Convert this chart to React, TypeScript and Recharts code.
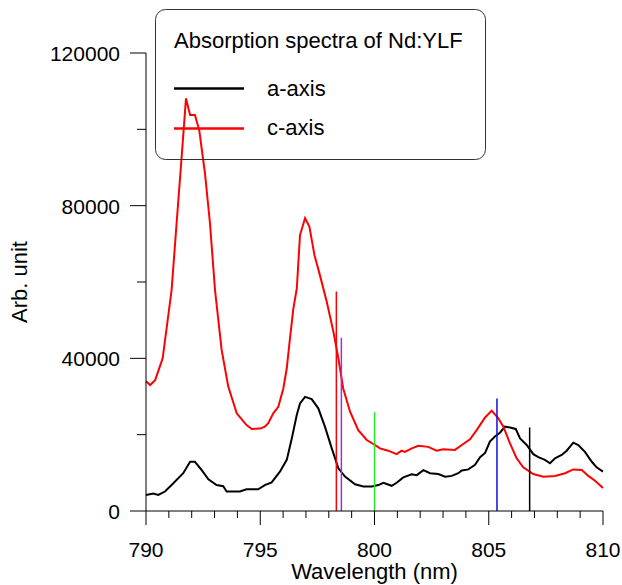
import React from 'react';
import {
  LineChart,
  Line,
  XAxis,
  YAxis,
  Legend,
  Label,
  ReferenceLine,
} from 'recharts';

const FONT = '"Liberation Sans", Arial, sans-serif';

// a-axis (black) spectrum
const aAxisWl = [
  790.0, 790.32, 790.54, 790.83, 791.12, 791.63, 791.93, 792.14, 792.44, 792.73,
  793.09, 793.38, 793.53, 794.11, 794.4, 794.91, 795.2, 795.5, 795.86, 796.16,
  796.38, 796.6, 796.74, 796.96, 797.25, 797.54, 797.83, 798.13, 798.42, 798.71,
  799.15, 799.51, 799.88, 800.17, 800.39, 800.75, 800.97, 801.26, 801.63, 801.85,
  802.14, 802.43, 802.79, 803.09, 803.38, 803.67, 803.82, 804.11, 804.4, 804.62,
  804.84, 805.05, 805.27, 805.49, 805.71, 805.93, 806.18, 806.37, 806.66, 806.95,
  807.17, 807.46, 807.68, 807.9, 808.19, 808.41, 808.7, 808.92, 809.21, 809.51,
  809.72, 810.0,
];
const aAxisVal = [
  4200, 4600, 4200, 5100, 6800, 9900, 12900, 12900, 10700, 8300,
  6800, 6500, 5100, 5100, 5700, 5700, 6800, 7500, 10300, 13400,
  19000, 25200, 28200, 29900, 29300, 26900, 22100, 16400, 11200, 9000,
  7000, 6400, 6400, 6800, 7400, 6600, 7400, 8800, 9600, 9400,
  10700, 9900, 9700, 9000, 9200, 9900, 10600, 10900, 12100, 14100,
  15200, 18200, 19500, 20500, 22100, 21900, 21500, 19000, 17300, 14900,
  14100, 13400, 12500, 13800, 14700, 15800, 17900, 17300, 15500, 12900,
  11450, 10300,
];

// c-axis (red) spectrum
const cAxisWl = [
  790.0, 790.18, 790.4, 790.73, 791.12, 791.34, 791.56, 791.75, 791.93, 792.14,
  792.33, 792.58, 792.8, 793.02, 793.31, 793.6, 793.97, 794.4, 794.63, 795.0,
  795.2, 795.35, 795.57, 795.79, 796.01, 796.16, 796.3, 796.45, 796.6, 796.74,
  796.96, 797.15, 797.37, 797.61, 797.91, 798.2, 798.42, 798.63, 798.93, 799.29,
  799.66, 800.02, 800.24, 800.6, 800.97, 801.19, 801.33, 801.63, 801.92, 802.35,
  802.72, 803.01, 803.52, 803.82, 804.18, 804.47, 804.84, 805.13, 805.42, 805.64,
  805.93, 806.22, 806.51, 806.95, 807.39, 807.9, 808.34, 808.7, 809.07, 809.36,
  809.65, 810.0,
];
const cAxisVal = [
  34000, 33000, 34300, 40000, 57900, 75450, 92800, 108100, 103750, 103750,
  99800, 88500, 75400, 57900, 42200, 32600, 25600, 22500, 21500, 21600,
  22100, 23000, 25600, 27300, 32100, 37400, 45200, 53100, 58300, 72300,
  76700, 74500, 67100, 61800, 54800, 47000, 40000, 32100, 26000, 21200,
  18600, 17300, 16400, 15800, 14900, 15800, 15500, 16400, 17100, 16800,
  15800, 16200, 16000, 17300, 18800, 21200, 24500, 26300, 24300, 22100,
  17700, 13800, 11450, 9700, 9000, 9200, 9900, 10900, 10750, 9200,
  7950, 6000,
];

// vertical marker lines (wavelength, height)
const markerWl = [798.33, 798.55, 800.0, 805.36, 806.79];
const markerHeight = [57500, 45400, 25900, 29500, 21900];
const markerColors = ['#ff0000', '#9b30e0', '#22ee22', '#1010e0', '#000000'];

const xTicks = [
  790, 791, 792, 793, 794, 795, 796, 797, 798, 799, 800,
  801, 802, 803, 804, 805, 806, 807, 808, 809, 810,
];
const xLabelTicks = [790, 795, 800, 805, 810];
const yTicks = [0, 20000, 40000, 60000, 80000, 100000, 120000];
const yLabelTicks = [0, 40000, 80000, 120000];

const aData = aAxisWl.map((wl, i) => ({ wl, v: aAxisVal[i] }));
const cData = cAxisWl.map((wl, i) => ({ wl, v: cAxisVal[i] }));

const XTick = (props: any) => {
  const { x, y, payload } = props;
  const major = xLabelTicks.includes(payload.value);
  return (
    <g>
      <line x1={x} x2={x} y1={y} y2={y + (major ? 14 : 7)} stroke="#000" />
      {major && (
        <text x={x} y={y + 46} textAnchor="middle" fontSize={21} fontFamily={FONT} fill="#000">
          {payload.value}
        </text>
      )}
    </g>
  );
};

const YTick = (props: any) => {
  const { x, y, payload } = props;
  const major = yLabelTicks.includes(payload.value);
  return (
    <g>
      <line x1={x - (major ? 16 : 9)} x2={x} y1={y} y2={y} stroke="#000" />
      {major && (
        <text x={x - 26} y={y + 8} textAnchor="end" fontSize={21} fontFamily={FONT} fill="#000">
          {payload.value}
        </text>
      )}
    </g>
  );
};

const LegendBox = (props: any) => {
  const items = props.payload || [];
  return (
    <svg width={331} height={151} style={{ display: 'block' }}>
      <rect x={0.5} y={0.5} width={330} height={150} rx={10} fill="none" stroke="#333" />
      <text x={19} y={39} fontSize={22} fontFamily={FONT} fill="#000">
        Absorption spectra of Nd:YLF
      </text>
      {items.map((it: any, i: number) => (
        <g key={it.value}>
          <line x1={19} x2={89} y1={79.5 + i * 40} y2={79.5 + i * 40} stroke={it.color} strokeWidth={2.5} />
          <text x={112} y={87 + i * 39} fontSize={22} fontFamily={FONT} fill="#000">
            {it.value}
          </text>
        </g>
      ))}
    </svg>
  );
};

export default function App() {
  return (
    <div style={{ position: 'absolute', left: 0, top: 0 }}>
      <LineChart width={622} height={585} margin={{ top: 53, right: 19, bottom: 14, left: 0 }}>
        <XAxis
          type="number"
          dataKey="wl"
          domain={[790, 810]}
          ticks={xTicks}
          interval={0}
          tickSize={0}
          tickMargin={0}
          tick={<XTick />}
          height={60}
          axisLine={{ stroke: '#000' }}
        >
          <Label
            content={(p: any) => (
              <text
                x={p.viewBox.x + p.viewBox.width / 2}
                y={p.viewBox.y + 68}
                textAnchor="middle"
                fontSize={22}
                fontFamily={FONT}
                fill="#000"
              >
                Wavelength (nm)
              </text>
            )}
          />
        </XAxis>
        <YAxis
          type="number"
          domain={[0, 120000]}
          ticks={yTicks}
          interval={0}
          tickSize={0}
          tickMargin={0}
          tick={<YTick />}
          width={146}
          axisLine={{ stroke: '#000' }}
        >
          <Label
            content={(p: any) => {
              const cy = p.viewBox.y + p.viewBox.height / 2;
              return (
                <text
                  x={27}
                  y={cy}
                  transform={`rotate(-90, 27, ${cy})`}
                  textAnchor="middle"
                  fontSize={22}
                  fontFamily={FONT}
                  fill="#000"
                >
                  Arb. unit
                </text>
              );
            }}
          />
        </YAxis>
        <Legend
          layout="horizontal"
          verticalAlign="middle"
          align="center"
          content={<LegendBox />}
          wrapperStyle={{ left: 155, top: 8.5, width: 331, height: 151 }}
        />
        <Line
          data={aData}
          dataKey="v"
          name="a-axis"
          type="linear"
          stroke="#000000"
          strokeWidth={2}
          dot={false}
          activeDot={false}
          isAnimationActive={false}
        />
        <Line
          data={cData}
          dataKey="v"
          name="c-axis"
          type="linear"
          stroke="#ff0000"
          strokeWidth={2}
          dot={false}
          activeDot={false}
          isAnimationActive={false}
        />
        {markerWl.map((wl, i) => (
          <ReferenceLine
            key={wl}
            segment={[
              { x: wl, y: 0 },
              { x: wl, y: markerHeight[i] },
            ]}
            stroke={markerColors[i]}
            strokeWidth={1.5}
          />
        ))}
      </LineChart>
    </div>
  );
}
